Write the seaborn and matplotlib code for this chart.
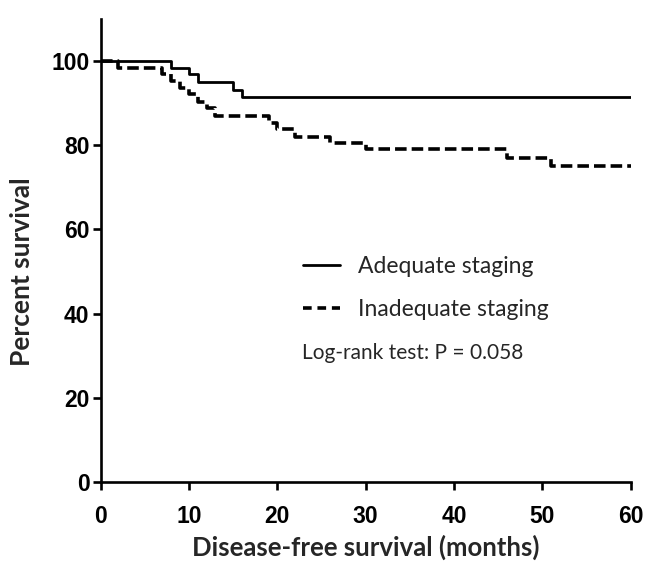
import matplotlib
matplotlib.use("Agg")
import matplotlib.pyplot as plt
import seaborn as sns
import pandas as pd
from matplotlib.lines import Line2D

# Data (Kaplan-Meier step curves)
adequate_months = [0, 8, 10, 11, 15, 16, 60]
adequate_surv = [100, 98.4, 96.8, 95.0, 93.1, 91.3, 91.3]
inadequate_months = [0, 2, 7, 8, 9, 10, 11, 12, 13, 19, 20, 22, 26, 30, 46, 51, 60]
inadequate_surv = [100, 98.4, 96.8, 95.2, 93.6, 92.0, 90.3, 88.7, 87.0, 85.3, 83.7, 82.0, 80.4, 79.0, 77.0, 75.0, 75.0]
groups = ["Adequate staging", "Inadequate staging"]
x_ticks = [0, 10, 20, 30, 40, 50, 60]
y_ticks = [0, 20, 40, 60, 80, 100]

sns.set_theme(style="ticks")
plt.rcParams["font.family"] = ["Liberation Sans", "DejaVu Sans"]

df = pd.concat([
    pd.DataFrame({"month": adequate_months, "surv": adequate_surv, "group": groups[0]}),
    pd.DataFrame({"month": inadequate_months, "surv": inadequate_surv, "group": groups[1]}),
], ignore_index=True)

fig = plt.figure(figsize=(6.45, 5.63), dpi=100)
ax = fig.add_axes([0.156, 0.143, 0.822, 0.824])

dash = (3.2, 1.4)
sns.lineplot(data=df[df.group == groups[0]], x="month", y="surv", ax=ax,
             color="black", lw=2.0, drawstyle="steps-post", estimator=None,
             sort=False, legend=False)
sns.lineplot(data=df[df.group == groups[1]], x="month", y="surv", ax=ax,
             color="black", lw=2.6, drawstyle="steps-post", estimator=None,
             sort=False, legend=False, dashes=False, linestyle=(0, dash))

ax.set_xlim(0, 60)
ax.set_ylim(0, 110)
ax.set_xticks(x_ticks)
ax.set_yticks(y_ticks)
ax.set_xticklabels([str(t) for t in x_ticks])
ax.set_yticklabels([str(t) for t in y_ticks])
for lab in ax.get_xticklabels() + ax.get_yticklabels():
    lab.set_fontweight("bold")
    lab.set_fontsize(16.5)
ax.tick_params(axis="both", direction="out", length=6, width=1.9, pad=2, colors="black")
ax.tick_params(axis="x", pad=10)
ax.margins(0)
sns.despine(ax=ax)
for s in ["left", "bottom"]:
    ax.spines[s].set_linewidth(1.9)
    ax.spines[s].set_color("black")

ax.set_xlabel("Disease-free survival (months)", fontsize=18.5, fontweight="bold",
              family=["Lato", "DejaVu Sans"])
ax.set_ylabel("Percent survival", fontsize=19, fontweight="bold",
              family=["Lato", "DejaVu Sans"])
ax.xaxis.set_label_coords(0.5, -0.112)
ax.yaxis.set_label_coords(-0.125, 50 / 110)

handles = [
    Line2D([], [], color="black", lw=2.0),
    Line2D([], [], color="black", lw=2.6, linestyle=(0, (2.4, 1.6))),
]
fs_leg = 16.5
leg = ax.legend(handles, groups, loc="upper left",
                bbox_to_anchor=(303 / 645, 1 - 256 / 563), bbox_transform=fig.transFigure,
                borderaxespad=0, borderpad=0, frameon=False,
                handlelength=1.6, handletextpad=0.8, labelspacing=0.95,
                prop={"family": ["Lato", "DejaVu Sans"], "size": fs_leg})
fig.text(302 / 645, 1 - 353 / 563, "Log-rank test: P = 0.058",
         fontsize=15, family=["Lato", "DejaVu Sans"], va="center", ha="left")

fig.savefig("out.png", dpi=100)
